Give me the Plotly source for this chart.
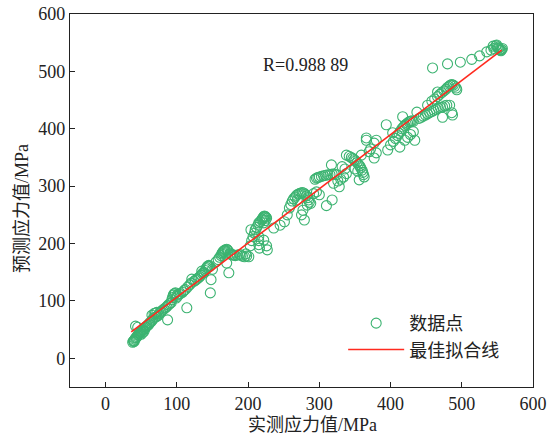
import plotly.graph_objects as go

measured_stress = [
    38, 39, 40, 41, 40, 42, 43, 44, 45, 46, 47, 48, 49, 50, 42, 45, 52, 53, 55, 56, 57, 58, 60, 61, 50, 52, 54,
    62, 64, 65, 66, 68, 70, 72, 74, 65, 68, 70, 72, 75, 77, 78, 80, 82, 84, 86, 88, 90, 92, 87, 93, 94, 95, 96, 97, 98, 100, 99, 101, 114, 103, 105,
    108, 110, 112, 115, 118, 120, 121, 124, 126, 128, 130, 132, 134, 136, 138, 140, 141, 142, 143, 144, 145, 146, 147, 148, 138, 135, 150,
    155, 158, 160, 162, 163, 164, 165, 166, 167, 168, 170, 171, 172, 170, 173, 175, 176, 178, 180, 182, 185, 188, 190, 192, 195, 198, 201, 197,
    203, 205, 207, 209, 210, 212, 214, 215, 217, 219, 220, 221, 222, 223, 224, 225, 226, 224, 222, 204, 215, 215, 215, 216, 222, 227, 236, 226,
    245, 251, 255, 258, 260, 262, 264, 266, 268, 270, 272, 274, 276, 278, 280, 282, 284, 285, 286, 269, 279, 275, 277, 283, 288,
    292, 296, 300, 310, 318, 328, 294, 296, 298, 300, 303, 306, 309, 312, 315, 318, 321, 324, 317, 332, 320, 326, 330, 334, 338, 336,
    338, 342, 345, 347, 349, 351, 353, 355, 357, 358, 360, 361, 362, 363, 356, 350, 354, 366, 377, 377, 359, 366, 370, 372,
    380, 380, 394, 403, 396, 413, 417, 437, 400, 404, 407, 410, 412, 414, 416, 418, 420, 422, 424, 426, 428, 430, 432, 420, 424, 428, 432, 434,
    440, 443, 446, 449, 452, 455, 458, 461, 464, 467, 470, 473, 476, 479, 452, 458, 462, 466, 469, 472, 475, 478, 480, 482, 484, 486, 488, 490, 492, 493, 483, 486, 487, 473, 466, 459,
    480, 498, 514, 525, 535, 544, 548, 550, 551, 552, 553, 554, 555, 556, 557, 549, 541, 545,
]
predicted_stress = [
    28, 30, 31, 33, 29, 35, 36, 38, 40, 41, 43, 44, 46, 47, 56, 54, 49, 51, 52, 54, 55, 57, 58, 60, 42, 45, 47,
    62, 64, 66, 68, 70, 72, 73, 75, 75, 78, 79, 80, 78, 80, 82, 84, 86, 88, 90, 93, 95, 97, 67, 102, 106, 110, 112, 113, 114, 110, 105, 108, 88, 112, 113,
    115, 118, 120, 124, 128, 131, 138, 134, 136, 138, 140, 142, 145, 148, 150, 153, 156, 158, 160, 161, 162, 160, 114, 137, 149, 152, 155,
    168, 172, 176, 179, 182, 184, 186, 187, 188, 189, 190, 189, 187, 166, 149, 183, 181, 180, 180, 179, 180, 181, 180, 178, 177, 178, 177, 182,
    196, 205, 212, 218, 224, 228, 232, 236, 238, 241, 243, 245, 247, 248, 247, 246, 244, 240, 236, 224, 212, 205, 198, 192, 206, 189, 227, 196,
    232, 238, 250, 262, 268, 274, 278, 281, 284, 286, 287, 288, 289, 288, 286, 283, 280, 276, 272, 276, 241, 250, 258, 267, 270,
    287, 290, 285, 266, 276, 299, 312, 314, 315, 316, 317, 318, 319, 320, 320, 321, 321, 320, 337, 334, 305, 309, 312, 316, 322, 330,
    354, 352, 350, 348, 346, 344, 341, 338, 335, 332, 328, 324, 320, 316, 311, 330, 326, 384, 375, 349, 354, 380, 360, 365,
    380, 358, 407, 393, 363, 368, 421, 429, 372, 378, 383, 388, 392, 396, 400, 403, 406, 408, 410, 412, 413, 414, 413, 380, 385, 390, 395, 380,
    418, 420, 422, 424, 426, 428, 430, 432, 434, 436, 437, 438, 440, 441, 441, 448, 452, 456, 460, 463, 466, 469, 472, 474, 476, 477, 476, 474, 471, 468, 441, 428, 424, 420, 464, 506,
    513, 516, 521, 527, 534, 544, 545, 543, 541, 540, 538, 537, 536, 538, 540, 546, 537, 540,
]

# best-fit line endpoints
fit_x = [36, 556]
fit_y = [46, 537]

x_ticks = [0, 100, 200, 300, 400, 500, 600]
y_ticks = [0, 100, 200, 300, 400, 500, 600]

r_label = "R=0.988 89"
x_title = "实测应力值/MPa"
y_title = "预测应力值/MPa"
scatter_name = "数据点"
fit_name = "最佳拟合线"

FONT = "Liberation Serif, Noto Sans CJK SC, serif"
TXT = "#222222"

fig = go.Figure()
fig.add_trace(go.Scatter(
    x=measured_stress, y=predicted_stress, mode="markers", name=scatter_name,
    marker=dict(symbol="circle-open", size=10, color="#3cb371", line=dict(width=1.1)),
))
fig.add_trace(go.Scatter(
    x=fit_x, y=fit_y, mode="lines", name=fit_name,
    line=dict(color="#ff2a1f", width=1.6),
))

axis_common = dict(
    showgrid=False, zeroline=False, showline=True, linecolor="#222222", linewidth=1.2,
    mirror=True, ticks="inside", ticklen=5, tickwidth=1.2, tickcolor="#222222",
    tickfont=dict(family=FONT, size=18, color=TXT),
    automargin=False,
)
fig.update_xaxes(range=[-50, 600], tickvals=x_ticks, **axis_common)
fig.update_yaxes(range=[-50, 600], tickvals=y_ticks, **axis_common)

fig.update_layout(
    width=549, height=436,
    margin=dict(l=70, r=16, t=14, b=49, pad=0),
    paper_bgcolor="white", plot_bgcolor="white",
    font=dict(family=FONT, size=18, color=TXT),
    legend=dict(
        x=0.59, y=0.22, xanchor="left", yanchor="top",
        bgcolor="rgba(0,0,0,0)", borderwidth=0,
        font=dict(family=FONT, size=18, color=TXT),
        itemwidth=56,
    ),
    annotations=[
        dict(text=r_label, x=(305 - 70) / 463, y=(387 - 53) / 373, xref="paper", yref="paper",
             showarrow=False, font=dict(family=FONT, size=18, color=TXT)),
        dict(text=x_title, x=(312 - 70) / 463, y=(387 - 425) / 373, xref="paper", yref="paper",
             showarrow=False, yanchor="middle", font=dict(family=FONT, size=18, color=TXT)),
        dict(text=y_title, x=(22 - 70) / 463, y=(387 - 209) / 373, xref="paper", yref="paper",
             showarrow=False, textangle=-90, xanchor="center", yanchor="middle",
             font=dict(family=FONT, size=18, color=TXT)),
    ],
)

fig.write_html(
    "out.html",
    config={"displayModeBar": False},
    post_script="document.body.style.margin='0';document.body.style.padding='0';"
                "document.documentElement.style.overflow='hidden';",
)
